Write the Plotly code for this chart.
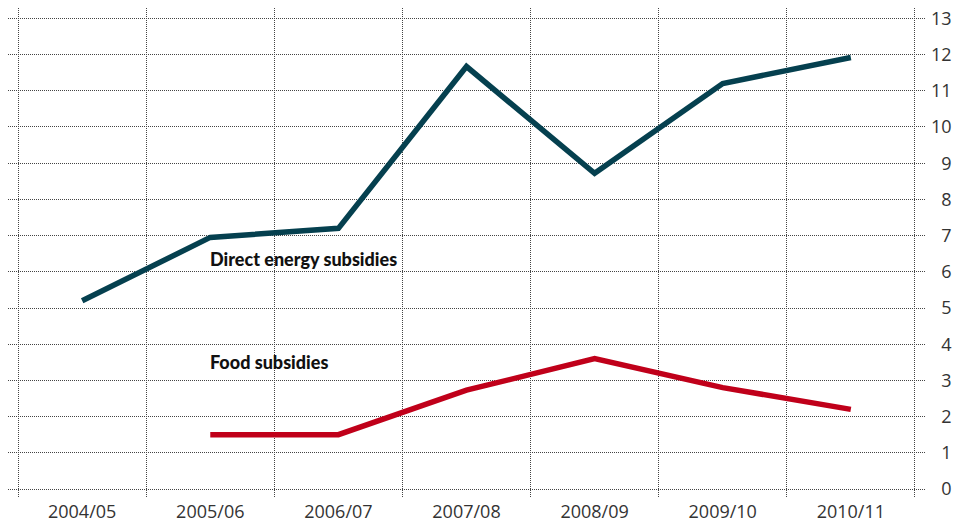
import plotly.graph_objects as go

years = ["2004/05", "2005/06", "2006/07", "2007/08", "2008/09", "2009/10", "2010/11"]
energy = [5.2, 6.95, 7.2, 11.67, 8.72, 11.2, 11.92]
food_years = ["2005/06", "2006/07", "2007/08", "2008/09", "2009/10", "2010/11"]
food = [1.5, 1.5, 2.73, 3.6, 2.8, 2.2]
y_ticks = list(range(0, 14))
y_ticktext = [("\u2007" + str(v)) if v < 10 else str(v) for v in y_ticks]

ENERGY_COLOR = "#05404f"
FOOD_COLOR = "#c0001a"
GRID = "#444444"
LABEL_FONT = dict(family="Lato", size=18, color="#111111", weight=900)
TICK_FONT = dict(family="Open Sans", size=18, color="#333333")

fig = go.Figure()
fig.add_trace(go.Scatter(x=years, y=energy, mode="lines",
                         line=dict(color=ENERGY_COLOR, width=5.5), hoverinfo="skip"))
fig.add_trace(go.Scatter(x=food_years, y=food, mode="lines",
                         line=dict(color=FOOD_COLOR, width=5.5), hoverinfo="skip"))

fig.add_annotation(x=0.985, y=6.35, xref="x", yref="y", text="Direct energy subsidies",
                   showarrow=False, xanchor="left", yanchor="middle", font=LABEL_FONT)
fig.add_annotation(x=0.985, y=3.5, xref="x", yref="y", text="Food subsidies",
                   showarrow=False, xanchor="left", yanchor="middle", font=LABEL_FONT)

fig.update_layout(
    width=954, height=524,
    margin=dict(l=8, r=29, t=8, b=27, autoexpand=False),
    paper_bgcolor="white", plot_bgcolor="white",
    showlegend=False,
    font=TICK_FONT,
    xaxis=dict(type="category", categoryorder="array", categoryarray=years,
               range=[-0.579, 6.579], tickson="boundaries", automargin=False,
               showgrid=True, griddash="1px,1px", gridcolor=GRID, gridwidth=1,
               showline=False, zeroline=False, ticks="", ticklabelstandoff=2,
               tickfont=TICK_FONT),
    yaxis=dict(side="right", range=[-0.221, 13.287], tickvals=y_ticks, ticktext=y_ticktext,
               automargin=False,
               showgrid=True, griddash="1px,1px", gridcolor=GRID, gridwidth=1,
               showline=False, zeroline=False, ticks="", ticklabelstandoff=5,
               tickfont=TICK_FONT),
)

fig.write_html("out.html", config={"displayModeBar": False},
               post_script="document.body.style.margin='0';document.body.style.overflow='hidden';")
